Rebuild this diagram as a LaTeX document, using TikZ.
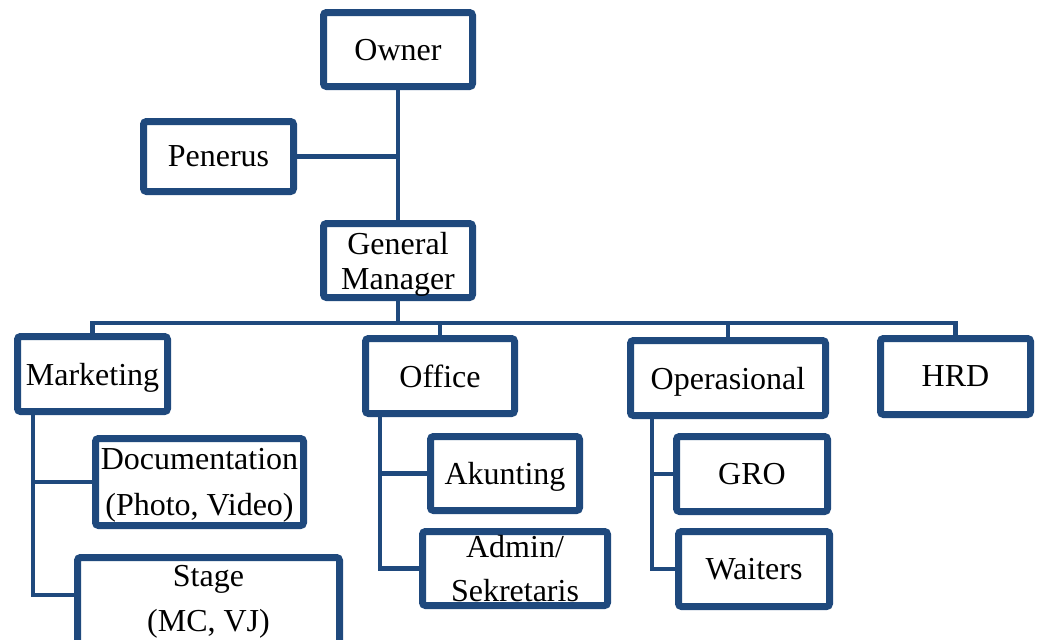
\documentclass[tikz,border=0pt]{standalone}
\usepackage{fontspec}
\setmainfont{Liberation Serif}
\usetikzlibrary{calc,shadows}
\definecolor{orgB}{HTML}{1F497D}

\begin{document}
\begin{tikzpicture}[x=0.5pt, y=-0.5pt,
  unitbox/.style 2 args={draw=orgB, line width=3.5pt, fill=white,
    rounded corners=1.5pt, minimum width=#1*0.5pt, minimum height=#2*0.5pt,
    inner sep=0pt, align=center, font=\fontsize{16}{19}\selectfont,
    text depth=0pt,
    drop shadow={shadow xshift=1.2pt, shadow yshift=-1.6pt, opacity=0.22}},
  link/.style={draw=orgB, line width=2.3pt}]
  \useasboundingbox (0,0) rectangle (1041,639);

  % top levels
  \node[unitbox={149}{74}] (owner) at (398,49.5) {Owner};
  \node[unitbox={150}{70}] (penerus) at (218.5,156.5) {Penerus};
  \node[unitbox={149}{74}, font=\fontsize{16}{17.5}\selectfont] (gm) at (398,260.5)
    {General\\Manager};

  % divisions
  \node[unitbox={150}{75}] (mkt) at (92.5,374) {Marketing};
  \node[unitbox={149}{75}] (office) at (440,376) {Office};
  \node[unitbox={195}{75}] (ops) at (728,378) {Operasional};
  \node[unitbox={150}{76}] (hrd) at (955.5,376.5) {HRD};

  % sub units
  \node[unitbox={208}{87}, font=\fontsize{16}{23}\selectfont] (doc) at (199.5,482)
    {Documentation\\(Photo, Video)};
  \node[unitbox={262}{89}, font=\fontsize{16}{22.5}\selectfont, text depth=]
    (stage) at (208.5,602) {Stage\\(MC, VJ)};
  \node[unitbox={149}{74}] (akunting) at (505,473.5) {Akunting};
  \node[unitbox={185}{74}, font=\fontsize{16}{22}\selectfont] (admin) at (515,568.5)
    {Admin/\\Sekretaris};
  \node[unitbox={151}{75}] (gro) at (752,474) {GRO};
  \node[unitbox={151}{75}] (waiters) at (754,569) {Waiters};

  \coordinate (bus) at (398,323);
  \coordinate (mktrunk) at ($(mkt.south west)+(19,0)$);
  \coordinate (oftrunk) at ($(office.south west)+(18,0)$);
  \coordinate (optrunk) at ($(ops.south west)+(25,0)$);

  % connectors
  \draw[link] (owner.south) -- (gm.north);
  \draw[link] (penerus.east) -- (penerus.east -| owner.south);
  \draw[link] (gm.south) -- (bus);
  \foreach \dv in {mkt,office,ops,hrd}{
    \draw[link] (\dv.north) |- (bus);
  }
  \draw[link] (mktrunk) |- ($(stage.west)+(0,-7)$);
  \draw[link] (doc.west) -- (doc.west -| mktrunk);
  \draw[link] (oftrunk) |- (admin.west);
  \draw[link] (akunting.west) -- (akunting.west -| oftrunk);
  \draw[link] (optrunk) |- (waiters.west);
  \draw[link] (gro.west) -- (gro.west -| optrunk);
\end{tikzpicture}
\end{document}
